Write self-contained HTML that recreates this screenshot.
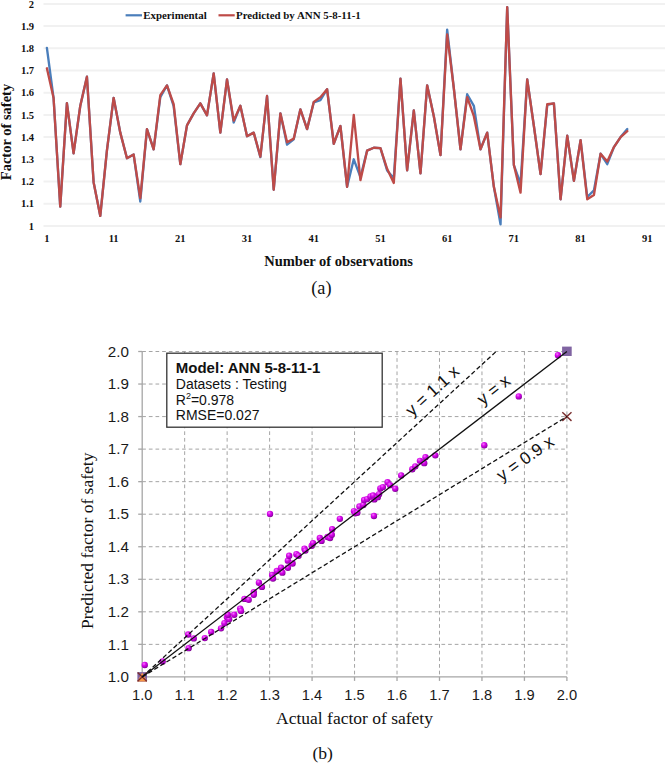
<!DOCTYPE html>
<html><head><meta charset="utf-8"><style>
html,body{margin:0;padding:0;background:#fff;}
body{width:666px;height:764px;overflow:hidden;}
svg{display:block;}
.ser{font-family:"Liberation Serif",serif;}
.sans{font-family:"Liberation Sans",sans-serif;}
</style></head><body>
<svg width="666" height="764" viewBox="0 0 666 764">
<defs>
<radialGradient id="ball" cx="0.38" cy="0.32" r="0.7">
<stop offset="0" stop-color="#f47cff"/>
<stop offset="0.4" stop-color="#d808ea"/>
<stop offset="0.8" stop-color="#a800c0"/>
<stop offset="1" stop-color="#7a008c"/>
</radialGradient>
</defs>
<rect width="666" height="764" fill="#fff"/>

<g stroke="#f1f1f1" stroke-width="2">
<line x1="43.5" y1="225.90" x2="665" y2="225.90"/>
<line x1="43.5" y1="203.70" x2="665" y2="203.70"/>
<line x1="43.5" y1="181.50" x2="665" y2="181.50"/>
<line x1="43.5" y1="159.30" x2="665" y2="159.30"/>
<line x1="43.5" y1="137.10" x2="665" y2="137.10"/>
<line x1="43.5" y1="114.90" x2="665" y2="114.90"/>
<line x1="43.5" y1="92.70" x2="665" y2="92.70"/>
<line x1="43.5" y1="70.50" x2="665" y2="70.50"/>
<line x1="43.5" y1="48.30" x2="665" y2="48.30"/>
<line x1="43.5" y1="26.10" x2="665" y2="26.10"/>
<line x1="43.5" y1="3.90" x2="665" y2="3.90"/>
</g>
<g class="ser" font-weight="bold" font-size="10.5" fill="#111" text-anchor="end">
<text x="34" y="229.50">1</text>
<text x="34" y="207.30">1.1</text>
<text x="34" y="185.10">1.2</text>
<text x="34" y="162.90">1.3</text>
<text x="34" y="140.70">1.4</text>
<text x="34" y="118.50">1.5</text>
<text x="34" y="96.30">1.6</text>
<text x="34" y="74.10">1.7</text>
<text x="34" y="51.90">1.8</text>
<text x="34" y="29.70">1.9</text>
<text x="34" y="7.50">2</text>
</g>
<g class="ser" font-weight="bold" font-size="10.5" fill="#111" text-anchor="middle">
<text x="46.90" y="242.3">1</text>
<text x="113.61" y="242.3">11</text>
<text x="180.32" y="242.3">21</text>
<text x="247.03" y="242.3">31</text>
<text x="313.74" y="242.3">41</text>
<text x="380.45" y="242.3">51</text>
<text x="447.16" y="242.3">61</text>
<text x="513.87" y="242.3">71</text>
<text x="580.58" y="242.3">81</text>
<text x="647.29" y="242.3">91</text>
</g>
<polyline points="46.90,47.86 53.57,98.03 60.24,206.59 66.91,103.13 73.58,153.31 80.25,106.02 86.93,76.72 93.60,182.17 100.27,215.91 106.94,150.42 113.61,97.81 120.28,132.66 126.95,158.19 133.62,154.42 140.29,201.48 146.97,129.11 153.64,149.31 160.31,97.14 166.98,85.37 173.65,106.02 180.32,164.18 186.99,125.33 193.66,113.35 200.33,103.36 207.00,115.34 213.68,73.39 220.35,132.66 227.02,79.38 233.69,122.45 240.36,105.80 247.03,136.21 253.70,132.66 260.37,157.08 267.04,96.03 273.71,189.71 280.38,113.35 287.06,144.65 293.73,139.32 300.40,109.35 307.07,129.11 313.74,102.47 320.41,100.03 327.08,89.15 333.75,143.76 340.42,126.00 347.09,186.83 353.77,159.30 360.44,177.06 367.11,150.64 373.78,147.76 380.45,148.20 387.12,170.40 393.79,178.17 400.46,78.71 407.13,170.40 413.81,110.46 420.48,173.29 427.15,85.37 433.82,116.23 440.49,155.08 447.16,29.65 453.83,88.26 460.50,149.31 467.17,94.25 473.84,105.80 480.51,149.31 487.19,132.66 493.86,186.83 500.53,224.35 507.20,7.23 513.87,165.07 520.54,183.72 527.21,79.38 533.88,126.00 540.55,174.17 547.23,104.91 553.90,103.36 560.57,199.26 567.24,135.77 573.91,180.83 580.58,140.21 587.25,197.04 593.92,190.38 600.59,153.75 607.26,164.18 613.93,147.09 620.61,137.10 627.28,129.11" fill="none" stroke="#4a7ebb" stroke-width="2.35" stroke-linejoin="round" stroke-linecap="round"/>
<polyline points="46.90,68.28 53.57,98.03 60.24,206.59 66.91,103.13 73.58,153.31 80.25,106.02 86.93,76.72 93.60,182.17 100.27,215.91 106.94,150.42 113.61,97.81 120.28,132.66 126.95,158.19 133.62,154.42 140.29,198.15 146.97,129.11 153.64,149.31 160.31,95.14 166.98,85.37 173.65,104.24 180.32,164.18 186.99,125.33 193.66,113.35 200.33,103.36 207.00,115.34 213.68,73.39 220.35,132.66 227.02,79.38 233.69,120.67 240.36,105.80 247.03,136.21 253.70,132.66 260.37,156.64 267.04,96.03 273.71,189.71 280.38,113.35 287.06,142.21 293.73,138.65 300.40,109.35 307.07,129.11 313.74,102.02 320.41,97.14 327.08,89.15 333.75,143.76 340.42,126.00 347.09,186.83 353.77,114.90 360.44,180.17 367.11,150.64 373.78,147.76 380.45,148.20 387.12,168.85 393.79,183.05 400.46,78.71 407.13,170.40 413.81,110.46 420.48,173.29 427.15,85.37 433.82,116.23 440.49,155.08 447.16,34.31 453.83,88.26 460.50,149.31 467.17,97.14 473.84,116.23 480.51,149.31 487.19,132.66 493.86,186.83 500.53,217.46 507.20,7.23 513.87,165.07 520.54,192.60 527.21,79.38 533.88,126.00 540.55,174.17 547.23,104.24 553.90,103.36 560.57,199.26 567.24,135.77 573.91,180.83 580.58,140.21 587.25,199.26 593.92,195.04 600.59,153.75 607.26,161.52 613.93,147.09 620.61,137.10 627.28,131.11" fill="none" stroke="#be4b48" stroke-width="2.35" stroke-linejoin="round" stroke-linecap="round"/>
<line x1="125.6" y1="15.3" x2="142" y2="15.3" stroke="#4a7ebb" stroke-width="2.2"/>
<text class="ser" font-weight="bold" font-size="10.9" fill="#111" x="143.2" y="19">Experimental</text>
<line x1="218.5" y1="15.3" x2="234.7" y2="15.3" stroke="#be4b48" stroke-width="2.2"/>
<text class="ser" font-weight="bold" font-size="10.9" fill="#111" x="236" y="19">Predicted by ANN 5-8-11-1</text>
<text class="ser" font-weight="bold" font-size="14.5" fill="#111" text-anchor="middle" transform="translate(11.2,132) rotate(-90)">Factor of safety</text>
<text class="ser" font-weight="bold" font-size="14.5" fill="#111" text-anchor="middle" x="338.6" y="266">Number of observations</text>
<text class="ser" font-size="18.3" fill="#111" text-anchor="middle" x="321.4" y="294.3">(a)</text>
<g stroke="#a4a4a4" stroke-width="1" stroke-dasharray="3.7 2.95" fill="none">
<line x1="142.20" y1="644.36" x2="566.90" y2="644.36"/>
<line x1="142.20" y1="611.82" x2="566.90" y2="611.82"/>
<line x1="142.20" y1="579.28" x2="566.90" y2="579.28"/>
<line x1="142.20" y1="546.74" x2="566.90" y2="546.74"/>
<line x1="142.20" y1="514.20" x2="566.90" y2="514.20"/>
<line x1="142.20" y1="481.66" x2="566.90" y2="481.66"/>
<line x1="142.20" y1="449.12" x2="566.90" y2="449.12"/>
<line x1="142.20" y1="416.58" x2="566.90" y2="416.58"/>
<line x1="142.20" y1="384.04" x2="566.90" y2="384.04"/>
<line x1="142.20" y1="351.50" x2="566.90" y2="351.50"/>
<line x1="184.67" y1="351.50" x2="184.67" y2="676.90"/>
<line x1="227.14" y1="351.50" x2="227.14" y2="676.90"/>
<line x1="269.61" y1="351.50" x2="269.61" y2="676.90"/>
<line x1="312.08" y1="351.50" x2="312.08" y2="676.90"/>
<line x1="354.55" y1="351.50" x2="354.55" y2="676.90"/>
<line x1="397.02" y1="351.50" x2="397.02" y2="676.90"/>
<line x1="439.49" y1="351.50" x2="439.49" y2="676.90"/>
<line x1="481.96" y1="351.50" x2="481.96" y2="676.90"/>
<line x1="524.43" y1="351.50" x2="524.43" y2="676.90"/>
<line x1="566.90" y1="351.50" x2="566.90" y2="676.90"/>
</g>
<g stroke="#a6a6a6" stroke-width="1.3">
<line x1="142.20" y1="351.00" x2="142.20" y2="680.90"/>
<line x1="138.20" y1="676.90" x2="566.90" y2="676.90"/>
<line x1="138.20" y1="676.90" x2="142.20" y2="676.90"/>
<line x1="142.20" y1="676.90" x2="142.20" y2="680.90"/>
<line x1="138.20" y1="644.36" x2="142.20" y2="644.36"/>
<line x1="184.67" y1="676.90" x2="184.67" y2="680.90"/>
<line x1="138.20" y1="611.82" x2="142.20" y2="611.82"/>
<line x1="227.14" y1="676.90" x2="227.14" y2="680.90"/>
<line x1="138.20" y1="579.28" x2="142.20" y2="579.28"/>
<line x1="269.61" y1="676.90" x2="269.61" y2="680.90"/>
<line x1="138.20" y1="546.74" x2="142.20" y2="546.74"/>
<line x1="312.08" y1="676.90" x2="312.08" y2="680.90"/>
<line x1="138.20" y1="514.20" x2="142.20" y2="514.20"/>
<line x1="354.55" y1="676.90" x2="354.55" y2="680.90"/>
<line x1="138.20" y1="481.66" x2="142.20" y2="481.66"/>
<line x1="397.02" y1="676.90" x2="397.02" y2="680.90"/>
<line x1="138.20" y1="449.12" x2="142.20" y2="449.12"/>
<line x1="439.49" y1="676.90" x2="439.49" y2="680.90"/>
<line x1="138.20" y1="416.58" x2="142.20" y2="416.58"/>
<line x1="481.96" y1="676.90" x2="481.96" y2="680.90"/>
<line x1="138.20" y1="384.04" x2="142.20" y2="384.04"/>
<line x1="524.43" y1="676.90" x2="524.43" y2="680.90"/>
<line x1="138.20" y1="351.50" x2="142.20" y2="351.50"/>
<line x1="566.90" y1="676.90" x2="566.90" y2="680.90"/>
</g>
<g class="sans" fill="#1a1a1a">
<text x="128.9" y="682.10" text-anchor="end" font-size="15.2">1.0</text>
<text x="142.20" y="699.6" text-anchor="middle" font-size="14.7">1.0</text>
<text x="128.9" y="649.56" text-anchor="end" font-size="15.2">1.1</text>
<text x="184.67" y="699.6" text-anchor="middle" font-size="14.7">1.1</text>
<text x="128.9" y="617.02" text-anchor="end" font-size="15.2">1.2</text>
<text x="227.14" y="699.6" text-anchor="middle" font-size="14.7">1.2</text>
<text x="128.9" y="584.48" text-anchor="end" font-size="15.2">1.3</text>
<text x="269.61" y="699.6" text-anchor="middle" font-size="14.7">1.3</text>
<text x="128.9" y="551.94" text-anchor="end" font-size="15.2">1.4</text>
<text x="312.08" y="699.6" text-anchor="middle" font-size="14.7">1.4</text>
<text x="128.9" y="519.40" text-anchor="end" font-size="15.2">1.5</text>
<text x="354.55" y="699.6" text-anchor="middle" font-size="14.7">1.5</text>
<text x="128.9" y="486.86" text-anchor="end" font-size="15.2">1.6</text>
<text x="397.02" y="699.6" text-anchor="middle" font-size="14.7">1.6</text>
<text x="128.9" y="454.32" text-anchor="end" font-size="15.2">1.7</text>
<text x="439.49" y="699.6" text-anchor="middle" font-size="14.7">1.7</text>
<text x="128.9" y="421.78" text-anchor="end" font-size="15.2">1.8</text>
<text x="481.96" y="699.6" text-anchor="middle" font-size="14.7">1.8</text>
<text x="128.9" y="389.24" text-anchor="end" font-size="15.2">1.9</text>
<text x="524.43" y="699.6" text-anchor="middle" font-size="14.7">1.9</text>
<text x="128.9" y="356.70" text-anchor="end" font-size="15.2">2.0</text>
<text x="566.90" y="699.6" text-anchor="middle" font-size="14.7">2.0</text>
</g>
<circle cx="144.76" cy="664.98" r="3.2" fill="url(#ball)"/>
<circle cx="162.65" cy="661.42" r="3.2" fill="url(#ball)"/>
<circle cx="188.21" cy="634.53" r="3.2" fill="url(#ball)"/>
<circle cx="193.75" cy="638.42" r="3.2" fill="url(#ball)"/>
<circle cx="188.63" cy="648.14" r="3.2" fill="url(#ball)"/>
<circle cx="204.82" cy="638.09" r="3.2" fill="url(#ball)"/>
<circle cx="211.21" cy="631.94" r="3.2" fill="url(#ball)"/>
<circle cx="221.01" cy="628.37" r="3.2" fill="url(#ball)"/>
<circle cx="224.42" cy="623.19" r="3.2" fill="url(#ball)"/>
<circle cx="226.97" cy="617.36" r="3.2" fill="url(#ball)"/>
<circle cx="229.10" cy="619.30" r="3.2" fill="url(#ball)"/>
<circle cx="227.83" cy="614.76" r="3.2" fill="url(#ball)"/>
<circle cx="234.22" cy="614.76" r="3.2" fill="url(#ball)"/>
<circle cx="240.18" cy="608.61" r="3.2" fill="url(#ball)"/>
<circle cx="241.03" cy="610.88" r="3.2" fill="url(#ball)"/>
<circle cx="244.44" cy="598.89" r="3.2" fill="url(#ball)"/>
<circle cx="248.70" cy="599.86" r="3.2" fill="url(#ball)"/>
<circle cx="253.81" cy="592.08" r="3.2" fill="url(#ball)"/>
<circle cx="253.81" cy="594.68" r="3.2" fill="url(#ball)"/>
<circle cx="258.92" cy="582.69" r="3.2" fill="url(#ball)"/>
<circle cx="261.91" cy="586.90" r="3.2" fill="url(#ball)"/>
<circle cx="272.13" cy="574.91" r="3.2" fill="url(#ball)"/>
<circle cx="272.98" cy="578.48" r="3.2" fill="url(#ball)"/>
<circle cx="276.82" cy="571.02" r="3.2" fill="url(#ball)"/>
<circle cx="281.08" cy="567.78" r="3.2" fill="url(#ball)"/>
<circle cx="282.35" cy="572.64" r="3.2" fill="url(#ball)"/>
<circle cx="287.89" cy="567.78" r="3.2" fill="url(#ball)"/>
<circle cx="287.89" cy="560.66" r="3.2" fill="url(#ball)"/>
<circle cx="289.17" cy="555.80" r="3.2" fill="url(#ball)"/>
<circle cx="292.58" cy="563.57" r="3.2" fill="url(#ball)"/>
<circle cx="296.41" cy="554.18" r="3.2" fill="url(#ball)"/>
<circle cx="298.54" cy="555.80" r="3.2" fill="url(#ball)"/>
<circle cx="304.51" cy="548.67" r="3.2" fill="url(#ball)"/>
<circle cx="305.36" cy="550.61" r="3.2" fill="url(#ball)"/>
<circle cx="311.75" cy="545.75" r="3.2" fill="url(#ball)"/>
<circle cx="313.03" cy="543.16" r="3.2" fill="url(#ball)"/>
<circle cx="319.84" cy="537.98" r="3.2" fill="url(#ball)"/>
<circle cx="321.55" cy="540.89" r="3.2" fill="url(#ball)"/>
<circle cx="327.51" cy="537.00" r="3.2" fill="url(#ball)"/>
<circle cx="330.07" cy="537.98" r="3.2" fill="url(#ball)"/>
<circle cx="332.20" cy="529.23" r="3.2" fill="url(#ball)"/>
<circle cx="331.77" cy="534.74" r="3.2" fill="url(#ball)"/>
<circle cx="339.86" cy="518.86" r="3.2" fill="url(#ball)"/>
<circle cx="353.92" cy="511.08" r="3.2" fill="url(#ball)"/>
<circle cx="355.20" cy="513.35" r="3.2" fill="url(#ball)"/>
<circle cx="357.33" cy="512.70" r="3.2" fill="url(#ball)"/>
<circle cx="359.46" cy="506.55" r="3.2" fill="url(#ball)"/>
<circle cx="363.29" cy="504.93" r="3.2" fill="url(#ball)"/>
<circle cx="364.15" cy="500.07" r="3.2" fill="url(#ball)"/>
<circle cx="367.13" cy="499.10" r="3.2" fill="url(#ball)"/>
<circle cx="370.54" cy="496.50" r="3.2" fill="url(#ball)"/>
<circle cx="374.37" cy="499.42" r="3.2" fill="url(#ball)"/>
<circle cx="373.09" cy="495.53" r="3.2" fill="url(#ball)"/>
<circle cx="377.78" cy="497.15" r="3.2" fill="url(#ball)"/>
<circle cx="379.06" cy="494.24" r="3.2" fill="url(#ball)"/>
<circle cx="380.33" cy="488.40" r="3.2" fill="url(#ball)"/>
<circle cx="382.89" cy="487.11" r="3.2" fill="url(#ball)"/>
<circle cx="373.94" cy="515.94" r="3.2" fill="url(#ball)"/>
<circle cx="387.58" cy="482.25" r="3.2" fill="url(#ball)"/>
<circle cx="390.13" cy="485.16" r="3.2" fill="url(#ball)"/>
<circle cx="395.24" cy="488.73" r="3.2" fill="url(#ball)"/>
<circle cx="401.21" cy="475.44" r="3.2" fill="url(#ball)"/>
<circle cx="412.28" cy="469.29" r="3.2" fill="url(#ball)"/>
<circle cx="415.27" cy="466.37" r="3.2" fill="url(#ball)"/>
<circle cx="419.95" cy="460.86" r="3.2" fill="url(#ball)"/>
<circle cx="424.21" cy="463.13" r="3.2" fill="url(#ball)"/>
<circle cx="425.49" cy="457.30" r="3.2" fill="url(#ball)"/>
<circle cx="435.29" cy="455.36" r="3.2" fill="url(#ball)"/>
<circle cx="270.00" cy="514.00" r="3.2" fill="url(#ball)"/>
<circle cx="484.28" cy="445.31" r="3.2" fill="url(#ball)"/>
<circle cx="518.78" cy="396.39" r="3.2" fill="url(#ball)"/>
<circle cx="557.98" cy="355.24" r="3.2" fill="url(#ball)"/>
<rect x="562.10" y="346.60" width="9.6" height="9.4" fill="#8064a2"/>
<rect x="137.40" y="672.10" width="9.6" height="9.6" fill="#8064a2"/>
<path d="M137.30,681.50 L142.20,672.60 L147.10,681.50Z" fill="#f79646"/>
<path d="M562.30,412.28 L571.50,420.88 M562.30,420.88 L571.50,412.28" stroke="#7a2e2e" stroke-width="1.4"/>
<path d="M137.60,672.60 L146.80,681.20 M137.60,681.20 L146.80,672.60" stroke="#7a2e2e" stroke-width="1.4"/>
<line x1="142.20" y1="676.90" x2="496.12" y2="351.50" stroke="#111" stroke-width="1.3" stroke-dasharray="4.5 2.6"/>
<line x1="142.20" y1="676.90" x2="566.90" y2="416.58" stroke="#111" stroke-width="1.3" stroke-dasharray="4.5 2.6"/>
<line x1="142.20" y1="676.90" x2="566.90" y2="351.50" stroke="#111" stroke-width="1.3"/>
<g transform="translate(433.20,391.70) rotate(-42.50)"><text class="sans" font-size="17.2" fill="#111" text-anchor="middle" x="0" y="4.47">y = 1.1 x</text></g>
<g transform="translate(494.30,390.90) rotate(-38.30)"><text class="sans" font-size="17.2" fill="#111" text-anchor="middle" x="0" y="4.47">y = x</text></g>
<g transform="translate(526.00,459.30) rotate(-35.00)"><text class="sans" font-size="17.2" fill="#111" text-anchor="middle" x="0" y="4.47">y = 0.9 x</text></g>
<rect x="166.8" y="353.2" width="215.4" height="74" fill="#fff" stroke="#333" stroke-width="1.3"/>
<text class="sans" font-weight="bold" font-size="15" fill="#111" x="175.8" y="373.2">Model: ANN 5-8-11-1</text>
<g class="sans" font-size="14" fill="#111">
<text x="175.8" y="389">Datasets : Testing</text>
<text x="175.8" y="404.5">R<tspan font-size="9" dy="-5.5">2</tspan><tspan dy="5.5">=0.978</tspan></text>
<text x="175.8" y="420.2">RMSE=0.027</text>
</g>
<text class="ser" font-size="17.5" fill="#111" text-anchor="middle" transform="translate(93.2,540.8) rotate(-90)">Predicted factor of safety</text>
<text class="ser" font-size="17.5" fill="#111" text-anchor="middle" x="354.5" y="723.6">Actual factor of safety</text>
<text class="ser" font-size="17.6" fill="#111" text-anchor="middle" x="322.7" y="759">(b)</text>
</svg></body></html>
